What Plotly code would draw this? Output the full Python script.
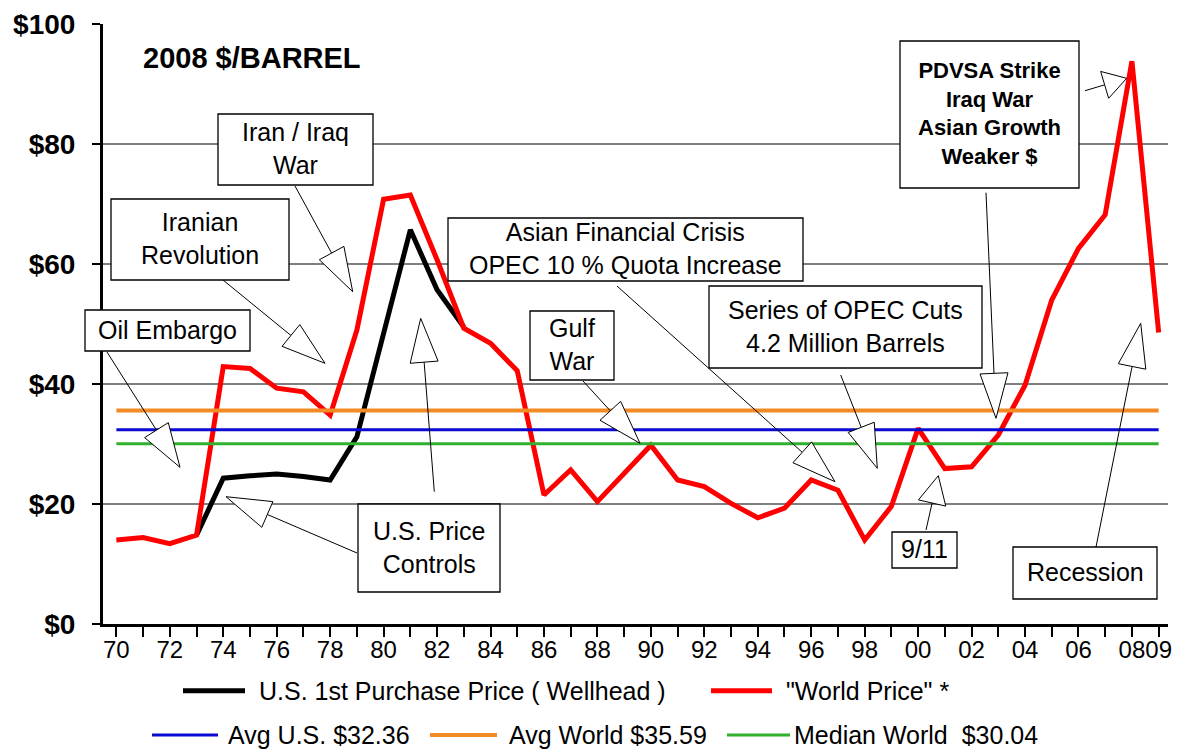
import plotly.graph_objects as go

# ---------------- data ----------------
years = list(range(1970, 2010))
world_price = [14.0, 14.4, 13.4, 14.8, 42.9, 42.6, 39.3, 38.7, 34.8, 49.0,
               70.8, 71.5, 60.7, 49.3, 46.8, 42.2, 21.5, 25.7, 20.4, 25.2,
               29.8, 24.0, 22.9, 20.1, 17.7, 19.3, 24.0, 22.3, 14.0, 19.6,
               32.6, 25.9, 26.2, 31.5, 39.8, 54.0, 62.6, 68.2, 93.8, 48.6]
us_years = list(range(1973, 1984))
us_price = [14.8, 24.3, 24.7, 25.0, 24.6, 24.0, 31.2, 48.7, 65.7, 55.7, 49.5]
avg_us = 32.36
avg_world = 35.59
median_world = 30.04
y_tick_values = [0, 20, 40, 60, 80, 100]
y_tick_labels = ["$0", "$20", "$40", "$60", "$80", "$100"]
grid_values = [20, 40, 60, 80]
x_tick_labels = ["70", "", "72", "", "74", "", "76", "", "78", "",
                 "80", "", "82", "", "84", "", "86", "", "88", "",
                 "90", "", "92", "", "94", "", "96", "", "98", "",
                 "00", "", "02", "", "04", "", "06", "", "08", "09"]
series_names = ['U.S. 1st Purchase Price ( Wellhead )', '"World Price" *',
                f"Avg U.S. ${avg_us:.2f}", f"Avg World ${avg_world:.2f}",
                f"Median World\u00a0 ${median_world:.2f}"]

# ---------------- geometry (pixels) ----------------
W, H = 1189, 751
L, R, T, B = 103, 1168, 24, 624
FONT = "Liberation Sans, Arial, sans-serif"


def px(x):
    return (x - L) / (R - L)


def py(y):
    return (B - y) / (B - T)


BLACK = "#000000"
RED = "#ff0000"
BLUE = "#0a0ad2"
ORANGE = "#f28a26"
GREEN = "#2fb02f"

fig = go.Figure()
fig.add_trace(go.Scatter(x=us_years, y=us_price, mode="lines", name=series_names[0],
                         line=dict(color=BLACK, width=5), showlegend=False))
fig.add_trace(go.Scatter(x=years, y=world_price, mode="lines", name=series_names[1],
                         line=dict(color=RED, width=5), showlegend=False))
for val, col, wd, nm in [(avg_us, BLUE, 3, series_names[2]),
                         (avg_world, ORANGE, 4, series_names[3]),
                         (median_world, GREEN, 3, series_names[4])]:
    fig.add_trace(go.Scatter(x=[years[0], years[-1]], y=[val, val], mode="lines", name=nm,
                             line=dict(color=col, width=wd), showlegend=False))

shapes = []
annotations = []

# gridlines
for g in grid_values:
    shapes.append(dict(type="line", xref="paper", yref="y", x0=0, x1=1, y0=g, y1=g,
                       line=dict(color="#000000", width=1), layer="below"))

# callout boxes: text, box (x0,y0,x1,y1), font size, bold, arrows (sx,sy,tx,ty,headlen)
callouts = [
    ("Iran / Iraq<br>War", (218, 114, 373, 185), 25, False, [(295, 186, 352.7, 291.7, 44)]),
    ("Iranian<br>Revolution", (111, 199, 289, 280), 25, False, [(223, 280, 325, 363.3, 44)]),
    ("Oil Embargo", (85, 310, 250, 351), 25, False, [(107, 352, 180, 467.3, 44)]),
    ("U.S. Price<br>Controls", (358, 504, 500, 592), 25, False,
     [(357, 553, 226, 496.7, 45), (434.3, 491.7, 420.7, 318.3, 44)]),
    ("Asian Financial Crisis<br>OPEC 10 % Quota Increase", (448, 218, 803, 281), 25, False,
     [(617, 286, 835, 481.7, 44)]),
    ("Gulf<br>War", (530, 311, 614, 380), 25, False, [(583, 381, 640, 443.3, 44)]),
    ("Series of OPEC Cuts<br>4.2 Million Barrels", (709, 286, 982, 368), 25, False,
     [(840.7, 375, 877.3, 468.3, 44)]),
    ("PDVSA Strike<br>Iraq War<br>Asian Growth<br>Weaker $", (900, 41, 1079, 188), 22, True,
     [(986, 192.7, 996, 418.3, 45), (1085, 90.7, 1126.7, 78.3, 23)]),
    ("9/11", (892, 532, 957, 568), 25, False, [(926, 530, 938.3, 475.7, 28)]),
    ("Recession", (1013, 547, 1157, 599), 25, False, [(1096, 547, 1140.7, 323.3, 44)]),
]

for text, (x0, y0, x1, y1), fs, bold, arrows in callouts:
    for sx, sy, tx, ty, hl in arrows:
        dx, dy = tx - sx, ty - sy
        n = (dx * dx + dy * dy) ** 0.5
        ux, uy = dx / n, dy / n
        mx, my = tx - hl * ux, ty - hl * uy
        nx, ny = -uy, ux
        hw = 14
        shapes.append(dict(type="line", xref="paper", yref="paper",
                           x0=px(sx), y0=py(sy), x1=px(mx), y1=py(my),
                           line=dict(color="#000000", width=1), layer="above"))
        pts = [(tx, ty), (mx + hw * nx, my + hw * ny), (mx - hw * nx, my - hw * ny)]
        path = "M " + " L ".join(f"{px(a):.5f},{py(b):.5f}" for a, b in pts) + " Z"
        shapes.append(dict(type="path", xref="paper", yref="paper", path=path,
                           fillcolor="white", line=dict(color="#000000", width=1), layer="above"))
    shapes.append(dict(type="rect", xref="paper", yref="paper",
                       x0=px(x0), x1=px(x1), y0=py(y0), y1=py(y1),
                       fillcolor="white", line=dict(color="#000000", width=1.3), layer="above"))
    annotations.append(dict(text=(f"<b>{text}</b>" if bold else text), xref="paper", yref="paper",
                            x=px((x0 + x1) / 2), y=py((y0 + y1) / 2 - 1), showarrow=False,
                            xanchor="center", yanchor="middle", align="center",
                            font=dict(family=FONT, size=fs, color="#000000")))

# chart label
annotations.append(dict(text="<b>2008 $/BARREL</b>", xref="paper", yref="paper",
                        x=px(252), y=py(58), showarrow=False, xanchor="center", yanchor="middle",
                        font=dict(family=FONT, size=29, color="#000000")))

# legend (manual, two rows)
legend_rows = [
    (690.7, [(BLACK, 5, 183, 245, 257, series_names[0]), (RED, 5, 711, 772, 784, series_names[1])]),
    (735, [(BLUE, 3, 152, 218, 226, series_names[2]), (ORANGE, 4, 430, 497, 507, series_names[3]),
           (GREEN, 3, 727, 790, 792, series_names[4])]),
]
for yy, items in legend_rows:
    for col, wd, lx0, lx1, tx, label in items:
        shapes.append(dict(type="line", xref="paper", yref="paper", x0=px(lx0), x1=px(lx1),
                           y0=py(yy), y1=py(yy), line=dict(color=col, width=wd)))
        annotations.append(dict(text=label, xref="paper", yref="paper", x=px(tx), y=py(yy),
                                showarrow=False, xanchor="left", yanchor="middle",
                                font=dict(family=FONT, size=25, color="#000000")))

fig.update_layout(
    width=W, height=H,
    margin=dict(l=L, r=W - R, t=T, b=H - B, autoexpand=False),
    paper_bgcolor="white", plot_bgcolor="white",
    showlegend=False,
    shapes=shapes, annotations=annotations,
    xaxis=dict(range=[1969.5, 2009.35], tickmode="array", tickvals=years, ticktext=x_tick_labels,
               tickangle=0,
               showgrid=False, zeroline=False, showline=True, linecolor="#000000", linewidth=3,
               ticks="", ticklabelstandoff=2,
               minor=dict(tickmode="array", tickvals=years, ticks="outside", ticklen=10,
                          tickwidth=1.5, tickcolor="#000000", showgrid=False),
               tickfont=dict(family=FONT, size=24, color="#000000")),
    yaxis=dict(range=[0, 100], tickmode="array", tickvals=y_tick_values, ticktext=y_tick_labels,
               showgrid=False, zeroline=False, showline=True, linecolor="#000000", linewidth=3,
               ticks="outside", ticklen=8, tickwidth=1.5, tickcolor="#000000",
               ticklabelstandoff=11,
               tickfont=dict(family=FONT, size=28, color="#000000", weight="bold")),
)

fig.write_html("out.html", config={"displayModeBar": False},
               post_script="document.body.style.margin='0';document.body.style.overflow='hidden';")
